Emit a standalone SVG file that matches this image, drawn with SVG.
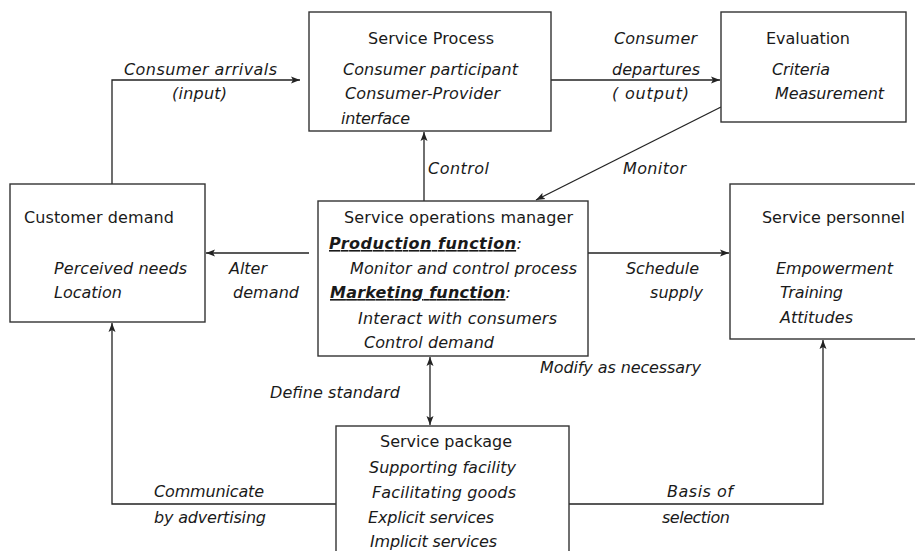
<svg xmlns="http://www.w3.org/2000/svg" width="915" height="551" viewBox="0 0 915 551">
<defs>
<marker id="arr" markerUnits="userSpaceOnUse" markerWidth="10" markerHeight="8" refX="9" refY="4" orient="auto-start-reverse">
<path d="M0,0.5 L9,4 L0,7.5 L2,4 Z" fill="#222"/>
</marker>
</defs>
<style>
text{font-family:"DejaVu Sans","Verdana",sans-serif;font-size:16px;fill:#1a1a1a}
.i{font-style:italic}
.b{font-weight:bold;font-style:italic;text-decoration:underline}
.box{fill:#fff;stroke:#333;stroke-width:1.4}
.ln{fill:none;stroke:#222;stroke-width:1.3}
</style>
<rect width="915" height="551" fill="#fff"/>
<g id="connectors">
<polyline class="ln" points="112,184 112,80 300,80" marker-end="url(#arr)"/>
<line class="ln" x1="551" y1="80" x2="720" y2="80" marker-end="url(#arr)"/>
<line class="ln" x1="721" y1="107" x2="536" y2="200" marker-end="url(#arr)"/>
<line class="ln" x1="424" y1="201" x2="424" y2="132" marker-end="url(#arr)"/>
<line class="ln" x1="309" y1="253" x2="206" y2="253" marker-end="url(#arr)"/>
<line class="ln" x1="588" y1="253" x2="729" y2="253" marker-end="url(#arr)"/>
<line class="ln" x1="430" y1="357" x2="430" y2="425" marker-start="url(#arr)" marker-end="url(#arr)"/>
<polyline class="ln" points="336,504 112,504 112,323" marker-end="url(#arr)"/>
<polyline class="ln" points="569,504 823,504 823,340" marker-end="url(#arr)"/>
<text class="i" x="124" y="75" textLength="153">Consumer  arrivals</text>
<text class="i" x="172" y="99" textLength="55">(input)</text>
<text class="i" x="614" y="44" textLength="83">Consumer</text>
<text class="i" x="612" y="75" textLength="88">departures</text>
<text class="i" x="612" y="99" textLength="77">( output)</text>
<text class="i" x="428" y="174" textLength="61">Control</text>
<text class="i" x="623" y="174" textLength="63">Monitor</text>
<text class="i" x="229" y="274" textLength="38">Alter</text>
<text class="i" x="233" y="298" textLength="66">demand</text>
<text class="i" x="626" y="274" textLength="73">Schedule</text>
<text class="i" x="650" y="298" textLength="53">supply</text>
<text class="i" x="540" y="373" textLength="161">Modify as necessary</text>
<text class="i" x="270" y="398" textLength="130">Define standard</text>
<text class="i" x="154" y="497" textLength="110">Communicate</text>
<text class="i" x="154" y="523" textLength="112">by advertising</text>
<text class="i" x="667" y="497" textLength="66">Basis of</text>
<text class="i" x="662" y="523" textLength="68">selection</text>
</g>
<g id="service-process">
<rect class="box" x="309" y="12" width="242" height="119"/>
<text x="368" y="44" textLength="126">Service  Process</text>
<text class="i" x="343" y="75" textLength="175">Consumer participant</text>
<text class="i" x="345" y="99" textLength="155">Consumer-Provider</text>
<text class="i" x="341" y="124" textLength="69">interface</text>
</g>
<g id="evaluation">
<rect class="box" x="721" y="12" width="185" height="110"/>
<text x="766" y="44" textLength="84">Evaluation</text>
<text class="i" x="772" y="75" textLength="58">Criteria</text>
<text class="i" x="775" y="99" textLength="109">Measurement</text>
</g>
<g id="customer-demand">
<rect class="box" x="10" y="184" width="195" height="138"/>
<text x="24" y="223" textLength="150">Customer  demand</text>
<text class="i" x="54" y="274" textLength="133">Perceived  needs</text>
<text class="i" x="54" y="298" textLength="68">Location</text>
</g>
<g id="service-operations-manager">
<rect class="box" x="318" y="201" width="270" height="155"/>
<text x="344" y="223" textLength="229">Service  operations  manager</text>
<text x="329" y="249" textLength="193"><tspan class="b">Production function</tspan><tspan class="i">:</tspan></text>
<text class="i" x="350" y="274" textLength="227">Monitor and control process</text>
<text x="330" y="298" textLength="181"><tspan class="b">Marketing function</tspan><tspan class="i">:</tspan></text>
<text class="i" x="358" y="324" textLength="199">Interact  with  consumers</text>
<text class="i" x="364" y="348" textLength="130">Control demand</text>
</g>
<g id="service-personnel">
<rect class="box" x="730" y="184" width="186" height="155"/>
<text x="762" y="223" textLength="143">Service  personnel</text>
<text class="i" x="776" y="274" textLength="117">Empowerment</text>
<text class="i" x="780" y="298" textLength="63">Training</text>
<text class="i" x="780" y="323" textLength="73">Attitudes</text>
</g>
<g id="service-package">
<rect class="box" x="336" y="426" width="233" height="130"/>
<text x="380" y="447" textLength="132">Service  package</text>
<text class="i" x="369" y="473" textLength="147">Supporting  facility</text>
<text class="i" x="372" y="498" textLength="144">Facilitating  goods</text>
<text class="i" x="368" y="523" textLength="126">Explicit  services</text>
<text class="i" x="370" y="547" textLength="127">Implicit  services</text>
</g>
</svg>
